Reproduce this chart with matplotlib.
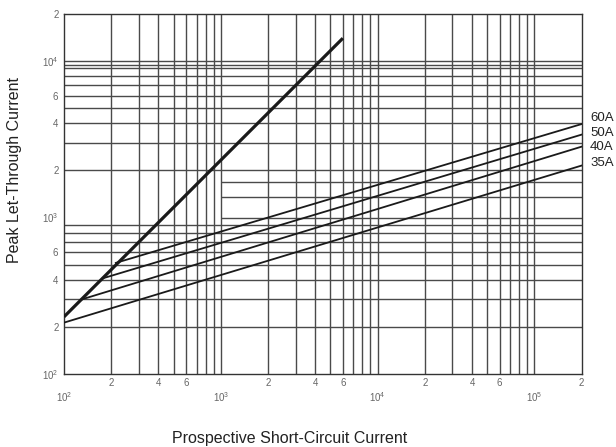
import numpy as np
import matplotlib
matplotlib.use('Agg')
import matplotlib.pyplot as plt
from matplotlib.ticker import FixedLocator, FixedFormatter, NullFormatter

plt.rcParams['font.family'] = ['Liberation Sans', 'DejaVu Sans']
plt.rcParams['mathtext.default'] = 'regular'

# let-through limit line (no fuse)
limit_x = [100, 6000]
limit_y = [232, 14000]

# fuse ratings: start / end points of each curve
ratings = ['60A', '50A', '40A', '35A']
start_x = [214, 177, 130, 100]
start_y = [513, 409, 300, 213]
end_x = [2e5, 2e5, 2e5, 2e5]
end_y = [3960, 3390, 2840, 2150]

# grid as drawn on the chart
vgrid = [200, 300, 400, 500, 600, 700, 800, 900, 1000,
         2000, 3000, 4000, 5000, 6000, 7000, 8000, 9000, 10000,
         20000, 30000, 40000, 50000, 60000, 70000, 80000, 90000, 100000]
hgrid_full = [200, 300, 400, 500, 600, 700, 800, 900,
              2000, 3000, 4000, 5000, 6000, 7000, 8000, 9000, 9500, 10000]
hgrid_right = [1000, 1360, 1680]

# tick labels
xmaj = [1e2, 1e3, 1e4, 1e5]
xmaj_lab = ['$10^2$', '$10^3$', '$10^4$', '$10^5$']
xmin_t = [2e2, 4e2, 6e2, 2e3, 4e3, 6e3, 2e4, 4e4, 6e4, 2e5]
xmin_lab = ['2', '4', '6', '2', '4', '6', '2', '4', '6', '2']
yticks = [1e2, 2e2, 4e2, 6e2, 1e3, 2e3, 4e3, 6e3, 1e4, 2e4]
ylab = ['$10^2$', '2', '4', '6', '$10^3$', '2', '4', '6', '$10^4$', '2']

fig = plt.figure(figsize=(6.16, 4.47), dpi=100)
ax = fig.add_axes([0.1039, 0.1633, 0.8404, 0.8054])
ax.set_xscale('log')
ax.set_yscale('log')
ax.set_xlim(100, 2e5)
ax.set_ylim(100, 2e4)

gc = '#4a4a4a'
ax.vlines(vgrid, 100, 2e4, colors=gc, linewidth=1.0, zorder=1)
ax.hlines(hgrid_full, 100, 2e5, colors=gc, linewidth=1.0, zorder=1)
ax.hlines(hgrid_right, 1000, 2e5, colors=gc, linewidth=1.0, zorder=1)

ax.plot(limit_x, limit_y, color='#1a1a1a', linewidth=2.3, solid_capstyle='butt', zorder=3)
label_dy = [4, 1.5, 0, 2]
for name, x0, y0, x1, y1, dy in zip(ratings, start_x, start_y, end_x, end_y, label_dy):
    ax.plot([x0, x1], [y0, y1], color='#1a1a1a', linewidth=1.3, zorder=3)
    ax.annotate(name, xy=(x1, y1), xytext=(6, dy), textcoords='offset points',
                ha='left', va='center', fontsize=9.5, color='#222222',
                annotation_clip=False)

# ticks
ax.xaxis.set_major_locator(FixedLocator(xmaj))
ax.xaxis.set_major_formatter(FixedFormatter(xmaj_lab))
ax.xaxis.set_minor_locator(FixedLocator(xmin_t))
ax.xaxis.set_minor_formatter(FixedFormatter(xmin_lab))
ax.yaxis.set_major_locator(FixedLocator(yticks))
ax.yaxis.set_major_formatter(FixedFormatter(ylab))
ax.yaxis.set_minor_locator(FixedLocator([]))
ax.yaxis.set_minor_formatter(NullFormatter())
ax.tick_params(axis='x', which='major', length=0, pad=12, labelsize=7, labelcolor='#666666')
ax.tick_params(axis='x', which='minor', length=0, pad=3, labelsize=7, labelcolor='#666666')
ax.tick_params(axis='y', which='both', length=0, pad=4, labelsize=7, labelcolor='#666666')

for s in ax.spines.values():
    s.set_color('#333333')
    s.set_linewidth(1.0)

fig.text(15 / 616, 1 - 170 / 447, 'Peak Let-Through Current', rotation=90,
         ha='center', va='center', fontsize=11.5, color='#222222')
fig.text(289.5 / 616, 1 - 438 / 447, 'Prospective Short-Circuit Current',
         ha='center', va='center', fontsize=11.5, color='#222222')

plt.savefig('out.png', dpi=100)
